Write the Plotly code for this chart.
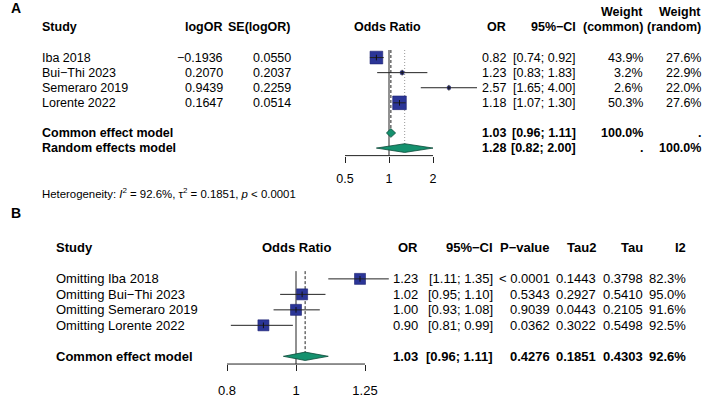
import math
import plotly.graph_objects as go

W, H = 708, 398

# ---------------- Panel A data ----------------
studies_a = ["Iba 2018", "Bui−Thi 2023", "Semeraro 2019", "Lorente 2022"]
log_or_a = [-0.1936, 0.2070, 0.9439, 0.1647]
se_log_or_a = [0.0550, 0.2037, 0.2259, 0.0514]
or_a = [0.82, 1.23, 2.57, 1.18]
ci_lo_a = [0.74, 0.83, 1.65, 1.07]
ci_hi_a = [0.92, 1.83, 4.00, 1.30]
weight_common_a = [43.9, 3.2, 2.6, 50.3]
weight_random_a = [27.6, 22.9, 22.0, 27.6]
pooled_labels_a = ["Common effect model", "Random effects model"]
pooled_or_a = [1.03, 1.28]
pooled_lo_a = [0.96, 0.82]
pooled_hi_a = [1.11, 2.00]
pooled_wc_a = ["100.0%", "."]
pooled_wr_a = [".", "100.0%"]
ticks_a = [0.5, 1, 2]
het_i2, het_tau2, het_p = "92.6%", "0.1851", "&lt; 0.0001"

# ---------------- Panel B data ----------------
studies_b = ["Omitting Iba 2018", "Omitting Bui−Thi 2023",
             "Omitting Semeraro 2019", "Omitting Lorente 2022"]
or_b = [1.23, 1.02, 1.00, 0.90]
ci_lo_b = [1.11, 0.95, 0.93, 0.81]
ci_hi_b = [1.35, 1.10, 1.08, 0.99]
pval_b = ["&lt; 0.0001", "0.5343", "0.9039", "0.0362"]
tau2_b = [0.1443, 0.2927, 0.0443, 0.3022]
tau_b = [0.3798, 0.5410, 0.2105, 0.5498]
i2_b = [82.3, 95.0, 91.6, 92.5]
pooled_label_b = "Common effect model"
pooled_or_b, pooled_lo_b, pooled_hi_b = 1.03, 0.96, 1.11
pooled_p_b, pooled_tau2_b, pooled_tau_b, pooled_i2_b = "0.4276", 0.1851, 0.4303, 92.6
ticks_b = [0.8, 1, 1.25]
null_value = 1

# ---------------- geometry (styles) ----------------
FONT = "Liberation Sans, Arial, Helvetica, sans-serif"
SQ_COL = "#2b3597"
SQ_EDGE = "#1c2270"
DI_COL = "#15916e"
DI_EDGE = "#0d4a38"

# panel A: x pixel = 389 + 146.17*log10(v); row pixel = 58 + 15.2*r
A_X0, A_XS = 389.0, 146.17
A_Y0, A_YS = 58.0, 15.2
FS_A = 12.5
# panel B: x pixel = 296 + 712*log10(v); row pixel = 281 + 15.6*r
B_X0, B_XS = 296.0, 712.0
B_Y0, B_YS = 281.0, 15.6
FS_B = 13

def ya(r):
    return A_Y0 + A_YS * r

def yb(r):
    return B_Y0 + B_YS * r

def px(x):
    return x / W

def py(y):
    return 1 - y / H

rows_a = list(range(len(studies_a)))
pooled_rows_a = [len(studies_a) + 1, len(studies_a) + 2]
rows_b = list(range(len(studies_b)))
pooled_row_b = len(studies_b) + 1

A_BOTTOM, A_TOP = pooled_rows_a[-1] + 0.5, -3.6
B_BOTTOM, B_TOP = pooled_row_b + 0.5, -2.6

fig = go.Figure()

def add_forest(xa, ya_, ors, los, his, rows, sizes):
    fig.add_trace(go.Scatter(
        x=ors, y=rows, xaxis=xa, yaxis=ya_, mode="markers",
        marker=dict(symbol="square", size=sizes, color=SQ_COL, opacity=1,
                    line=dict(color=SQ_EDGE, width=0.6)),
        hoverinfo="skip", showlegend=False))
    xs, ys = [], []
    for lo, hi, r in zip(los, his, rows):
        xs += [lo, hi, None]
        ys += [r, r, None]
    fig.add_trace(go.Scatter(
        x=xs, y=ys, xaxis=xa, yaxis=ya_, mode="lines",
        line=dict(color="#222222", width=1),
        hoverinfo="skip", showlegend=False))
    fig.add_trace(go.Scatter(
        x=ors, y=rows, xaxis=xa, yaxis=ya_, mode="markers",
        marker=dict(symbol="line-ns", size=4, opacity=1,
                    line=dict(color="#111111", width=1)),
        hoverinfo="skip", showlegend=False))

def add_diamond(xa, ya_, est, lo, hi, r, h):
    fig.add_trace(go.Scatter(
        x=[lo, est, hi, est, lo], y=[r, r - h, r, r + h, r],
        xaxis=xa, yaxis=ya_, mode="lines", fill="toself",
        fillcolor=DI_COL, line=dict(color=DI_EDGE, width=0.8),
        hoverinfo="skip", showlegend=False))

# reference lines (drawn first, below marks)
shapes = []
shapes.append(dict(type="line", xref="x", yref="y", x0=null_value, x1=null_value,
                   y0=-0.5, y1=A_BOTTOM, line=dict(color="#222222", width=1), layer="below"))
shapes.append(dict(type="line", xref="x", yref="y", x0=pooled_or_a[0], x1=pooled_or_a[0],
                   y0=-0.5, y1=pooled_rows_a[0], line=dict(color="#222222", width=1, dash="3px,2px"),
                   layer="below"))
shapes.append(dict(type="line", xref="x", yref="y", x0=pooled_or_a[1], x1=pooled_or_a[1],
                   y0=-0.5, y1=pooled_rows_a[1], line=dict(color="#999999", width=1, dash="1px,2px"),
                   layer="below"))
shapes.append(dict(type="line", xref="x", yref="y domain", x0=min(ticks_a), x1=max(ticks_a),
                   y0=0, y1=0, line=dict(color="#222222", width=1)))
shapes.append(dict(type="line", xref="x2", yref="y2", x0=null_value, x1=null_value,
                   y0=-0.5, y1=B_BOTTOM, line=dict(color="#222222", width=1), layer="below"))
shapes.append(dict(type="line", xref="x2", yref="y2", x0=pooled_or_b, x1=pooled_or_b,
                   y0=-0.5, y1=pooled_row_b, line=dict(color="#222222", width=1, dash="3px,2px"),
                   layer="below"))
shapes.append(dict(type="line", xref="x2", yref="y2 domain", x0=min(ticks_b), x1=max(ticks_b),
                   y0=0, y1=0, line=dict(color="#222222", width=1)))

# panel A marks
sizes_a = [1.92 * math.sqrt(w) for w in weight_common_a]
add_forest("x", "y", or_a, ci_lo_a, ci_hi_a, rows_a, sizes_a)
for est, lo, hi, r in zip(pooled_or_a, pooled_lo_a, pooled_hi_a, pooled_rows_a):
    add_diamond("x", "y", est, lo, hi, r, 0.29)

# panel B marks
add_forest("x2", "y2", or_b, ci_lo_b, ci_hi_b, rows_b, [11] * len(or_b))
add_diamond("x2", "y2", pooled_or_b, pooled_lo_b, pooled_hi_b, pooled_row_b, 0.27)

# ---------------- text ----------------
ann = []

def txt(s, x, y, anchor="left", size=FS_A, bold=False):
    if bold:
        s = "<b>" + s + "</b>"
    ann.append(dict(text=s, x=px(x), y=py(y), xref="paper", yref="paper",
                    xanchor=anchor, yanchor="middle", showarrow=False,
                    font=dict(size=size, color="#000000", family=FONT)))

# Panel A
txt("A", 9, 8, size=14, bold=True)
hr = ya(-2)
txt("Study", 40, hr, bold=True)
txt("logOR", 225, hr, "right", bold=True)
txt("SE(logOR)", 293, hr, "right", bold=True)
txt("Odds Ratio", 388, hr, "center", bold=True)
txt("OR", 508, hr, "right", bold=True)
txt("95%−CI", 578, hr, "right", bold=True)
txt("Weight", 645, ya(-3), "right", bold=True)
txt("(common)", 645, hr, "right", bold=True)
txt("Weight", 703, ya(-3), "right", bold=True)
txt("(random)", 703, hr, "right", bold=True)
for i, r in enumerate(rows_a):
    y = ya(r)
    txt(studies_a[i], 40, y)
    txt(f"{log_or_a[i]:.4f}".replace("-", "−"), 225, y, "right")
    txt(f"{se_log_or_a[i]:.4f}", 293, y, "right")
    txt(f"{or_a[i]:.2f}", 508, y, "right")
    txt(f"[{ci_lo_a[i]:.2f}; {ci_hi_a[i]:.2f}]", 578, y, "right")
    txt(f"{weight_common_a[i]:.1f}%", 645, y, "right")
    txt(f"{weight_random_a[i]:.1f}%", 703, y, "right")
for i, r in enumerate(pooled_rows_a):
    y = ya(r)
    txt(pooled_labels_a[i], 40, y, bold=True)
    txt(f"{pooled_or_a[i]:.2f}", 508, y, "right", bold=True)
    txt(f"[{pooled_lo_a[i]:.2f}; {pooled_hi_a[i]:.2f}]", 578, y, "right", bold=True)
    txt(pooled_wc_a[i], 645, y, "right", bold=True)
    txt(pooled_wr_a[i], 703, y, "right", bold=True)
txt(f"Heterogeneity: <i>I</i><sup>2</sup> = {het_i2}, τ<sup>2</sup> = {het_tau2}, <i>p</i> {het_p}",
    40, 194, size=11.4)

# Panel B
txt("B", 9, 215, size=14, bold=True)
hb = yb(-2)
txt("Study", 54, hb, size=FS_B, bold=True)
txt("Odds Ratio", 296, hb, "center", size=FS_B, bold=True)
txt("OR", 420, hb, "right", size=FS_B, bold=True)
txt("95%−CI", 495, hb, "right", size=FS_B, bold=True)
txt("P−value", 552, hb, "right", size=FS_B, bold=True)
txt("Tau2", 598, hb, "right", size=FS_B, bold=True)
txt("Tau", 645, hb, "right", size=FS_B, bold=True)
txt("I2", 688, hb, "right", size=FS_B, bold=True)
for i, r in enumerate(rows_b):
    y = yb(r)
    txt(studies_b[i], 54, y, size=FS_B)
    txt(f"{or_b[i]:.2f}", 420, y, "right", size=FS_B)
    txt(f"[{ci_lo_b[i]:.2f}; {ci_hi_b[i]:.2f}]", 495, y, "right", size=FS_B)
    txt(pval_b[i], 552, y, "right", size=FS_B)
    txt(f"{tau2_b[i]:.4f}", 598, y, "right", size=FS_B)
    txt(f"{tau_b[i]:.4f}", 645, y, "right", size=FS_B)
    txt(f"{i2_b[i]:.1f}%", 688, y, "right", size=FS_B)
y = yb(pooled_row_b)
txt(pooled_label_b, 54, y, size=FS_B, bold=True)
txt(f"{pooled_or_b:.2f}", 420, y, "right", size=FS_B, bold=True)
txt(f"[{pooled_lo_b:.2f}; {pooled_hi_b:.2f}]", 495, y, "right", size=FS_B, bold=True)
txt(pooled_p_b, 552, y, "right", size=FS_B, bold=True)
txt(f"{pooled_tau2_b:.4f}", 598, y, "right", size=FS_B, bold=True)
txt(f"{pooled_tau_b:.4f}", 645, y, "right", size=FS_B, bold=True)
txt(f"{pooled_i2_b:.1f}%", 688, y, "right", size=FS_B, bold=True)

def fmt_tick(v):
    return f"{v:g}"

fig.update_layout(
    width=W, height=H, margin=dict(l=0, r=0, t=0, b=0),
    paper_bgcolor="white", plot_bgcolor="rgba(0,0,0,0)",
    font=dict(family=FONT, color="#000000"),
    showlegend=False, shapes=shapes, annotations=ann,
    xaxis=dict(type="log", domain=[0, 1], anchor="y",
               range=[(0 - A_X0) / A_XS, (W - A_X0) / A_XS],
               tickvals=ticks_a, ticktext=[fmt_tick(v) for v in ticks_a],
               ticks="outside", ticklen=6, tickwidth=1, tickcolor="#222222",
               showline=False, showgrid=False, zeroline=False,
               tickfont=dict(size=FS_A, color="#000000", family=FONT),
               ticklabelstandoff=5, fixedrange=True),
    yaxis=dict(domain=[py(ya(A_BOTTOM)), py(ya(A_TOP))], range=[A_BOTTOM, A_TOP],
               visible=False, fixedrange=True),
    xaxis2=dict(type="log", domain=[0, 1], anchor="y2",
                range=[(0 - B_X0) / B_XS, (W - B_X0) / B_XS],
                tickvals=ticks_b, ticktext=[fmt_tick(v) for v in ticks_b],
                ticks="outside", ticklen=6, tickwidth=1, tickcolor="#222222",
                showline=False, showgrid=False, zeroline=False,
                tickfont=dict(size=FS_B, color="#000000", family=FONT),
                ticklabelstandoff=8, fixedrange=True),
    yaxis2=dict(domain=[py(yb(B_BOTTOM)), py(yb(B_TOP))], range=[B_BOTTOM, B_TOP],
                visible=False, fixedrange=True),
)

fig.write_html("out.html")
